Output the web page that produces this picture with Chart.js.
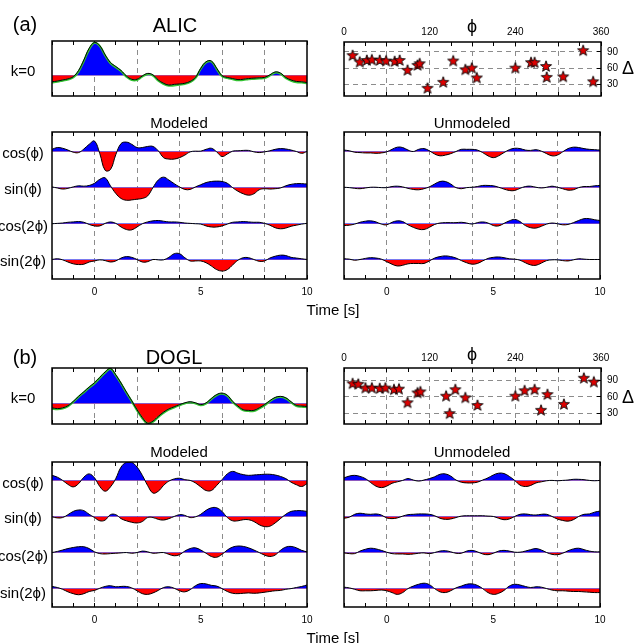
<!DOCTYPE html>
<html>
<head>
<meta charset="utf-8">
<script src="https://cdn.jsdelivr.net/npm/chart.js"></script>
<style>
  html, body { margin: 0; padding: 0; background: #fff; }
  #page { position: relative; width: 635px; height: 643px; overflow: hidden;
          font-family: "Liberation Sans", Arial, Helvetica, sans-serif; }
  #page canvas { position: absolute; left: 0; top: 0; }
  .lbl { position: absolute; white-space: nowrap; line-height: 1; color: #000;
         transform: translate(-50%, -50%); }
</style>
</head>
<body>
<div id="page"></div>
<script>
// ---------------- DATA ----------------
// sample times [s], 0.25 s apart
const time = [-2,-1.75,-1.5,-1.25,-1,-0.75,-0.5,-0.25,0,0.25,0.5,0.75,1,1.25,1.5,1.75,2,2.25,2.5,2.75,3,3.25,3.5,3.75,4,4.25,4.5,4.75,5,5.25,5.5,5.75,6,6.25,6.5,6.75,7,7.25,7.5,7.75,8,8.25,8.5,8.75,9,9.25,9.5,9.75,10];

const timeTicks = [-2,-1,0,1,2,3,4,5,6,7,8,9,10];
const timeLabels = [0, 5, 10];
const timeGrid = [0, 2, 4, 6, 8];
const phiTicks = [0,30,60,90,120,150,180,210,240,270,300,330,360];
const phiLabels = [0, 120, 240, 360];
const phiGrid = [60, 120, 180, 240, 300];
const deltaTicks = [30, 60, 90];
const traceNames = ["cos(\u03D5)", "sin(\u03D5)", "cos(2\u03D5)", "sin(2\u03D5)"];

// ALIC
const aK0 = [-1.8,-1.6,-1.3,-1.0,-0.4,1.3,4.2,7.4,9.0,8.1,5.6,3.5,2.4,1.3,-0.2,-1.1,-1.1,-0.2,0.5,0.1,-1.3,-2.2,-2.7,-2.5,-2.4,-2.2,-1.7,-0.6,1.9,3.7,3.9,1.9,-0.1,-0.6,-0.9,-1.2,-1.1,-0.9,-0.8,-0.7,-0.6,0.1,0.9,0.6,-0.6,-1.3,-1.7,-1.8,-2.0];
const aK0Fit = [-2.0,-1.8,-1.5,-1.2,-0.6,1.0,3.9,7.1,8.9,8.0,5.4,3.3,2.2,1.1,-0.4,-1.3,-1.3,-0.4,0.3,-0.1,-1.5,-2.4,-2.9,-2.8,-2.6,-2.4,-1.9,-0.8,1.7,3.5,3.7,1.7,-0.3,-0.8,-1.1,-1.4,-1.3,-1.1,-1.0,-0.9,-0.8,-0.1,0.7,0.4,-0.8,-1.5,-1.9,-2.0,-2.2];

const aModCos1 = [0.6,1.1,0.9,0.4,-0.2,-0.3,0.7,2.0,2.9,-0.6,-5.2,-5.0,-0.9,2.2,2.6,2.0,1.1,1.1,1.4,1.4,0.2,-1.7,-2.1,-2.1,-1.7,-1.0,-0.1,0.1,0.1,0.6,0.9,-0.1,-1.4,-0.7,0.1,0.2,0.3,0.3,-0.1,-0.3,-0.1,0.2,0.6,0.8,0.7,0.4,0,-0.5,0];
const aModSin1 = [0.2,-0.1,-0.4,-0.2,0.2,0.5,0.4,0.6,1.2,2.3,2.7,0.5,-1.6,-3.0,-3.5,-3.4,-3.2,-3.0,-2.3,0,2.1,2.9,2.1,1.1,0.2,-0.5,-0.5,0.2,0.8,1.4,1.7,1.8,1.7,1.2,0,-1.0,-1.7,-2.1,-1.7,-0.6,-0.3,-0.4,-0.3,-0.1,0.5,0.9,1.1,1.1,1.0];
const aModCos2 = [0,0.1,0.2,0.4,0.5,0.6,0.4,-0.2,-0.6,-0.6,0.1,0.5,0.1,-0.9,-1.6,-1.7,-0.9,0,0.5,0.8,0.9,0.7,0.5,0.5,0.4,0.2,0.1,0,-0.1,-0.6,-0.9,-0.9,-0.6,-0.1,0.4,0.5,0.6,0.5,0.4,0.4,0.1,-0.4,-1.1,-1.4,-1.2,-0.7,-0.4,-0.1,0.1];
const aModSin2 = [0.1,0.3,0,-0.6,-1.1,-1.3,-1.2,-0.6,-0.3,0,-0.2,-0.6,-0.3,0.5,0.9,0.7,0.1,-0.6,-0.5,0.1,0,0,0.7,1.7,1.7,0.6,-0.3,-0.3,-0.3,-0.8,-1.7,-2.7,-3.1,-2.7,-1.4,-0.1,0.6,0.6,0.1,-0.4,-0.3,0.5,1.0,1.3,1.2,0.7,0.5,0.3,0.1];

const aUnmCos1 = [0.4,0.2,-0.2,-0.3,-0.4,-0.4,-0.5,-0.4,-0.1,0.6,1.2,1.1,0.4,0,0.6,0.8,0.2,-0.7,-1.2,-1.0,-0.6,0,0.6,0.6,0.6,0.4,-0.3,-1.2,-1.7,-1.2,-0.3,0.5,0.9,0.8,0.4,0.3,0.5,0.1,-0.6,-1.2,-1.0,-0.1,0.8,1.2,1.1,0.8,0.6,0.5,0.4];
const aUnmSin1 = [0.1,0,-0.2,-0.3,-0.1,0.1,0.1,0,0,0.3,0.4,0.2,-0.2,-0.5,-0.6,-0.3,0.2,1.0,1.7,1.7,1.0,0,-0.3,0,0.1,0.3,0.6,0.6,0.5,0.1,-0.4,-0.8,-0.8,-0.2,0.3,0.4,0.1,-0.1,0.1,0.4,0.1,-0.3,-0.7,-0.6,0,0.3,0.3,0.5,0.6];
const aUnmCos2 = [-0.5,-0.4,-0.1,0.4,0.7,0.8,0.5,-0.1,-0.3,0.4,0.8,0.6,-0.3,-1.0,-1.5,-1.6,-1.0,-0.2,0.2,0.3,0.3,0.3,0.4,0.2,-0.1,0.3,0.5,0.2,-0.5,-0.6,0.1,0.8,1.2,0.6,-0.5,-1.1,-1.2,-0.7,-0.1,0.2,0,-0.3,-0.2,0.3,0.9,1.4,1.4,1.1,0.9];
const aUnmSin2 = [0.3,0.2,-0.1,0.1,0.4,0.6,0.5,0.2,-0.5,-1.2,-1.7,-1.5,-1.1,-1.0,-1.0,-1.0,-0.3,0.5,0.9,1.1,0.9,0.5,-0.2,-0.8,-1.2,-1.0,-0.3,0.4,0.7,0.8,0.6,0.3,0.2,-0.1,-0.8,-1.4,-1.5,-0.9,-0.2,0,0,-0.2,-0.3,0,0.3,0.2,0.1,0.1,0.1];

const aPhi = [12,22,32,39,50,59,71,78,89,103,106,117,139,153,170,179,186,240,262,267,283,284,307,335,349];
const aDelta = [84,72,75,76,75,74,73,75,57,66,69,24,35,74,58,61,43,61,71,71,64,44,45,93,36];

// DOGL
const bK0 = [-1.2,-1.4,-1.2,-0.6,0.6,2.0,3.3,4.6,5.8,7.3,8.8,9.8,8.0,5.7,3.2,0.8,-1.7,-3.9,-5.5,-4.9,-3.6,-2.4,-1.5,-0.9,-0.3,0.2,0.5,0.2,-0.3,0.2,1.4,2.5,2.9,2.3,0.6,-0.7,-1.7,-1.9,-1.9,-1.2,-0.3,0.8,1.7,2.0,1.6,0.5,-0.5,-0.7,-0.8];
const bK0Fit = [-1.5,-1.6,-1.4,-0.8,0.4,1.8,3.1,4.4,5.6,7.1,8.6,9.6,7.8,5.5,3.0,0.6,-1.9,-4.1,-5.6,-5.1,-3.8,-2.6,-1.7,-1.1,-0.5,0,0.3,0,-0.5,0,1.2,2.3,2.7,2.1,0.4,-0.9,-1.9,-2.1,-2.1,-1.4,-0.5,0.6,1.5,1.8,1.4,0.3,-0.7,-0.9,-1.0];

const bModCos1 = [1.4,0.9,0,-1.1,-1.8,-0.9,0.9,1.8,0.7,-1.7,-3.0,-1.8,0.5,3.7,5.0,5.0,3.7,1.4,-1.4,-3.5,-3.0,-1.4,-0.2,0.4,0.6,0.2,0,-0.7,-1.8,-2.8,-2.8,-1.4,0.2,1.8,2.5,2.0,1.6,1.4,1.5,1.6,1.7,1.7,1.5,1.1,0.5,-0.5,-1.2,-1.7,-0.9];
const bModSin1 = [-0.1,-0.4,-0.3,0.5,1.4,1.8,1.6,0.6,-0.3,-1.2,-1.0,0.5,0.5,-0.6,-1.2,-1.6,-1.8,-1.4,-0.3,-0.3,-0.8,-1.0,-0.6,0,0.5,0.3,-0.3,-0.1,0.6,1.7,2.4,2.4,1.4,-0.3,-1.2,-1.2,-0.9,-0.9,-1.4,-2.3,-2.8,-2.7,-1.8,-0.6,0.6,1.4,1.6,1.6,1.4];
const bModCos2 = [0,0.3,0.7,1.1,1.4,1.6,1.6,1.1,0.2,-0.3,-0.4,-0.3,-0.2,-0.1,0,-0.2,0,0.4,0.2,-0.2,-0.1,0,-0.5,-0.9,-0.6,0.4,1.1,1.3,0.7,-0.2,-1.1,-1.3,-0.5,0.7,1.5,1.8,1.7,1.3,0.7,0,-0.7,-1.1,-0.7,0.6,1.5,1.7,1.3,0.6,0.2];
const bModSin2 = [0.6,0.3,-0.2,-0.9,-1.4,-1.7,-1.4,-0.8,-0.5,0.1,0.6,0.8,0.5,0.6,0.6,0.2,-0.6,-1.4,-1.6,-1.2,-0.5,0.3,0.5,0.1,-0.6,-0.9,-0.3,0.8,1.4,1.3,0.9,0.7,0,-0.8,-1.3,-1.4,-1.3,-1.2,-1.3,-1.2,-1.0,-0.8,-0.6,-0.5,-0.2,0,0.3,0.6,1.0];

const bUnmCos1 = [0.7,1.2,1.4,1.1,0.5,-0.6,-1.6,-2.0,-1.6,-0.8,-0.4,0,0.5,0.1,-0.2,0.1,0.5,1.0,1.7,1.8,1.2,0.1,-0.5,-0.7,-0.7,-0.5,0.1,0.7,1.5,2.0,1.9,1.1,0,-1.3,-1.7,-1.4,-0.7,-0.4,-0.1,0,-0.1,0,0.1,0.3,0.3,0.2,0,-0.1,0];
const bUnmSin1 = [-0.5,-0.2,0.6,0.9,0.7,0.6,0.7,0.4,-0.4,-0.6,-0.4,0.1,0.5,0.6,0.7,0.7,0.6,0.2,-0.5,-0.8,-0.7,-0.3,0.1,0.2,0.2,0.2,0.2,0.1,0,-0.5,-0.9,-0.7,0,0.6,0.7,0.5,0.4,0.6,0.6,0,-0.7,-1.1,-1.3,-0.9,0,0.6,0.7,1.2,1.5];
const bUnmCos2 = [-0.1,-0.3,-0.3,0.4,0.9,1.2,1.0,0.6,0.1,-0.3,-0.4,-0.4,-0.5,-0.4,-0.2,-0.1,-0.3,0,0.4,0.5,0.2,-0.2,-0.2,0.4,0.6,0.2,-0.4,-0.6,-0.2,0.4,0.6,0.4,0.1,0.1,0.4,0.8,1.1,0.7,0,-0.5,-0.6,-0.2,0.5,1.0,1.2,0.8,0.4,0.2,0.2];
const bUnmSin2 = [0.4,0.2,-0.2,-0.6,-0.6,-0.6,-0.5,-0.4,-0.6,-1.1,-1.6,-1.1,0,0.7,1.2,1.5,1.1,0,-0.9,-1.1,-0.6,0.2,0.7,1.2,1.3,0.9,0,-1.1,-1.6,-1.3,-0.5,0.7,1.2,1.0,0.6,0.3,0.5,0.4,0,-0.4,-0.6,-0.6,-0.7,-0.8,-0.8,-0.9,-1.0,-1.1,-1.1];

const bPhi = [12,20,30,39,50,58,70,77,89,103,107,143,148,156,170,187,240,253,267,276,285,308,336,350];
const bDelta = [85,84,77,77,76,77,74,75,50,68,70,62,30,74,59,45,62,72,74,36,65,47,95,88];

// ---------------- STYLE / LAYOUT ----------------
const W = 635, H = 643;
const FONT = '"Liberation Sans", Arial, Helvetica, sans-serif';
const BLUE = "#0000ff", RED = "#ff0000", DASH = "#8c8c8c", BASE = "rgba(90,120,255,0.7)";
const OFFSETS = [30, 20, 10, 0];   // trace baselines, top to bottom

Chart.defaults.font.family = FONT;
Chart.defaults.color = "#000";

const page = document.getElementById("page");

function addCanvas() {
    const c = document.createElement("canvas");
    c.width = W;
    c.height = H;
    c.style.width = W + "px";
    c.style.height = H + "px";
    page.appendChild(c);
    return c;
}

function label(text, x, y, size) {
    const d = document.createElement("div");
    d.className = "lbl";
    d.textContent = text;
    d.style.left = x + "px";
    d.style.top = y + "px";
    d.style.fontSize = size + "px";
    page.appendChild(d);
}

// force axis box sizes so the plot frame lands where we want it
function fixSize(size) {
    return s => {
        if (s.isHorizontal()) s.height = size; else s.width = size;
        s.paddingLeft = s.paddingRight = s.paddingTop = s.paddingBottom = 0;
    };
}

function setTicks(values) {
    return s => { s.ticks = values.map(v => ({ value: v })); };
}

function padFor(f, sides) {
    return {
        left: f.l - sides.left,
        top: f.t - sides.top,
        right: W - f.r - sides.right,
        bottom: H - f.b - sides.bottom
    };
}

const framePlugin = {
    id: "frame",
    afterDraw(chart) {
        const { ctx, chartArea: a } = chart;
        ctx.save();
        ctx.strokeStyle = "#000";
        ctx.lineWidth = 1.5;
        ctx.strokeRect(a.left, a.top, a.right - a.left, a.bottom - a.top);
        ctx.restore();
    }
};

const baseOptions = {
    responsive: false,
    animation: false,
    events: [],
    devicePixelRatio: 1,
    plugins: { legend: { display: false }, tooltip: { enabled: false } }
};

// -------------------- AXES --------------------
function timeAxes(labelled) {
    return {
        x: {
            type: "linear", position: "bottom", min: -2, max: 10,
            afterBuildTicks: setTicks(timeTicks),
            afterFit: fixSize(labelled ? 24 : 0),
            grid: {
                color: c => (c.tick && timeGrid.includes(c.tick.value)) ? DASH : "rgba(0,0,0,0)",
                lineWidth: 1, tickLength: -4, tickColor: "#000", tickWidth: 1
            },
            border: { display: false, dash: [5, 4] },
            ticks: {
                display: labelled, autoSkip: false, maxRotation: 0, padding: 11,
                font: { size: 10 },
                callback: v => timeLabels.includes(v) ? String(v) : ""
            }
        },
        xTop: {
            type: "linear", axis: "x", position: "top", min: -2, max: 10,
            afterBuildTicks: setTicks(timeTicks),
            afterFit: fixSize(0),
            grid: { drawOnChartArea: false, tickLength: -4, tickColor: "#000", tickWidth: 1 },
            border: { display: false },
            ticks: { display: false, autoSkip: false }
        }
    };
}

function baselineAxis(min, max, baselines) {
    return {
        type: "linear", position: "left", min, max,
        afterBuildTicks: setTicks(baselines),
        afterFit: fixSize(0),
        grid: { color: BASE, lineWidth: 1, drawTicks: false },
        border: { display: false },
        ticks: { display: false }
    };
}

function points(vals, off) {
    return time.map((t, k) => ({ x: t, y: vals[k] + off }));
}

// -------------------- PANELS --------------------
function k0Chart(frame, trace, fit, yMin, yMax) {
    new Chart(addCanvas(), {
        type: "line",
        data: {
            datasets: [
                { data: points(trace, 0), borderColor: "#000", borderWidth: 1, pointRadius: 0, tension: 0.4, fill: false },
                { data: points(fit, 0), borderColor: "#33c433", borderWidth: 2, pointRadius: 0, tension: 0.4, fill: false },
                { data: points(trace, 0), borderColor: "rgba(0,0,0,0)", borderWidth: 0, pointRadius: 0, tension: 0.4,
                  fill: { target: { value: 0 }, above: BLUE, below: RED } }
            ]
        },
        plugins: [framePlugin],
        options: {
            ...baseOptions,
            layout: { padding: padFor(frame, { left: 0, top: 0, right: 0, bottom: 0 }) },
            scales: { ...timeAxes(false), y: baselineAxis(yMin, yMax, [0]) }
        }
    });
}

function traceChart(frame, traces, yMin, yMax) {
    const datasets = traces.map((vals, i) => ({
        data: points(vals, OFFSETS[i]),
        borderColor: "#000", borderWidth: 1, pointRadius: 0, tension: 0.4,
        fill: { target: { value: OFFSETS[i] }, above: BLUE, below: RED }
    }));
    new Chart(addCanvas(), {
        type: "line",
        data: { datasets },
        plugins: [framePlugin],
        options: {
            ...baseOptions,
            layout: { padding: padFor(frame, { left: 0, top: 0, right: 0, bottom: 24 }) },
            scales: { ...timeAxes(true), y: baselineAxis(yMin, yMax, OFFSETS) }
        }
    });
}

function makeStar() {
    const c = document.createElement("canvas");
    c.width = 14;
    c.height = 14;
    const g = c.getContext("2d");
    g.beginPath();
    for (let i = 0; i < 10; i++) {
        const r = i % 2 ? 2.4 : 5.8;
        const a = -Math.PI / 2 + i * Math.PI / 5;
        const px = 7 + r * Math.cos(a), py = 7.6 + r * Math.sin(a);
        if (i) g.lineTo(px, py); else g.moveTo(px, py);
    }
    g.closePath();
    g.fillStyle = "#e00000";
    g.fill();
    g.lineWidth = 0.9;
    g.strokeStyle = "#000";
    g.stroke();
    return c;
}
const star = makeStar();

function starChart(frame, phi, delta, yMin, yMax) {
    new Chart(addCanvas(), {
        type: "scatter",
        data: {
            datasets: [{
                data: phi.map((p, i) => ({ x: p, y: delta[i] })),
                pointStyle: star, pointRadius: 6, clip: false
            }]
        },
        plugins: [framePlugin],
        options: {
            ...baseOptions,
            layout: { padding: padFor(frame, { left: 0, top: 18, right: 24, bottom: 0 }) },
            scales: {
                x: {
                    type: "linear", position: "top", min: 0, max: 360,
                    afterBuildTicks: setTicks(phiTicks),
                    afterFit: fixSize(18),
                    grid: {
                        color: c => (c.tick && phiGrid.includes(c.tick.value)) ? DASH : "rgba(0,0,0,0)",
                        tickLength: -4, tickColor: "#000"
                    },
                    border: { display: false, dash: [5, 4] },
                    ticks: {
                        autoSkip: false, maxRotation: 0, padding: 8, font: { size: 10 },
                        callback: v => phiLabels.includes(v) ? String(v) : ""
                    }
                },
                xb: {
                    type: "linear", axis: "x", position: "bottom", min: 0, max: 360,
                    afterBuildTicks: setTicks(phiTicks),
                    afterFit: fixSize(0),
                    grid: { drawOnChartArea: false, tickLength: -4, tickColor: "#000" },
                    border: { display: false },
                    ticks: { display: false, autoSkip: false }
                },
                y: {
                    type: "linear", position: "right", min: yMin, max: yMax,
                    afterBuildTicks: setTicks(deltaTicks),
                    afterFit: fixSize(24),
                    grid: { color: DASH, tickLength: -4, tickColor: "#000" },
                    border: { display: false, dash: [5, 4] },
                    ticks: { padding: 10, font: { size: 10 } }
                }
            }
        }
    });
}

// -------------------- (a) ALIC --------------------
k0Chart({ l: 52, t: 41, r: 307, b: 96 }, aK0, aK0Fit, -5.7, 9.4);
starChart({ l: 344, t: 42, r: 601, b: 96 }, aPhi, aDelta, 9, 108);
traceChart({ l: 52, t: 132, r: 307, b: 279 }, [aModCos1, aModSin1, aModCos2, aModSin2], -5.3, 35.4);
traceChart({ l: 344, t: 132, r: 600, b: 279 }, [aUnmCos1, aUnmSin1, aUnmCos2, aUnmSin2], -5.3, 35.4);

label("(a)", 25, 24, 20);
label("ALIC", 175, 25, 20);
label("k=0", 23, 70, 15);
label("\u03D5", 472, 26, 18);
label("\u0394", 628, 68, 18);
label("Modeled", 179, 122, 15);
label("Unmodeled", 472, 122, 15);
[151.5, 188, 224.5, 260].forEach((y, i) => label(traceNames[i], 23, y, 15));
label("Time [s]", 333, 309, 15);

// -------------------- (b) DOGL --------------------
k0Chart({ l: 52, t: 368, r: 307, b: 424 }, bK0, bK0Fit, -5.7, 9.9);
starChart({ l: 344, t: 368, r: 601, b: 424 }, bPhi, bDelta, 10, 113);
traceChart({ l: 52, t: 462, r: 307, b: 607 }, [bModCos1, bModSin1, bModCos2, bModSin2], -5.1, 35.1);
traceChart({ l: 344, t: 462, r: 600, b: 607 }, [bUnmCos1, bUnmSin1, bUnmCos2, bUnmSin2], -5.1, 35.1);

label("(b)", 25, 357, 20);
label("DOGL", 174, 357, 20);
label("k=0", 23, 397, 15);
label("\u03D5", 472, 354, 18);
label("\u0394", 628, 397, 18);
label("Modeled", 179, 451, 15);
label("Unmodeled", 472, 451, 15);
[481.5, 517, 555, 591.5].forEach((y, i) => label(traceNames[i], 23, y, 15));
label("Time [s]", 333, 637, 15);
</script>
</body>
</html>
